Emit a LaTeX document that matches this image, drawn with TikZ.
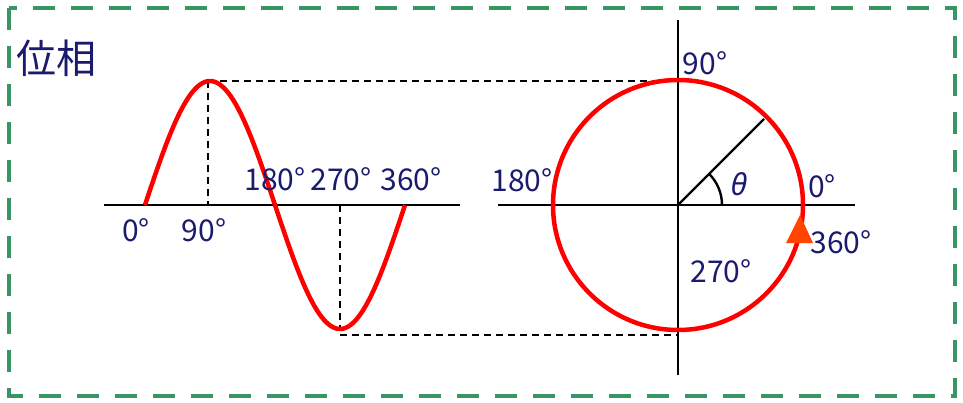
\documentclass[tikz,border=0pt]{standalone}
\usepackage{fontspec}
\setmainfont{Noto Sans CJK JP}
\newfontfamily\thetafont{Noto Sans}
\usetikzlibrary{calc}
\definecolor{frameg}{RGB}{56,150,100}
\definecolor{navytxt}{RGB}{26,26,110}
\definecolor{arrowred}{RGB}{255,69,0}
\tikzset{
  lbl/.style={text=navytxt,inner sep=0pt,font=\fontsize{30}{30}\selectfont},
  axis/.style={draw=black,line width=2.4pt},
  guide/.style={draw=black,line width=2pt,dash pattern=on 7pt off 5pt},
  wave/.style={draw=red,line width=4.5pt},
}
\begin{document}
\begin{tikzpicture}[x=1pt,y=-1pt]
\useasboundingbox (0,0) rectangle (963,402);
% frame
\draw[frameg,line width=4pt,dash pattern=on 22pt off 16pt] (9,8) rectangle (955,396);
\node[text=navytxt,inner sep=0pt,font=\fontsize{40}{40}\selectfont,anchor=west] (title) at (16,58) {位相};
% left part coordinates
\coordinate (la) at (104,205);
\coordinate (lb) at (460,205);
\coordinate (peak) at (208,81);
\coordinate (peakax) at (208,205);
\coordinate (trough) at (340,330);
\coordinate (troughax) at (340,205);
% right part coordinates
\coordinate (O) at (678,205);
\coordinate (ra) at (498,205);
\coordinate (rb) at (855,205);
\coordinate (rt) at (678,20);
\coordinate (rbot) at (678,375);
\coordinate (ctop) at (678,81);
\coordinate (cbot) at (678,335);
\coordinate (rad) at ($(O)+(86,-86)$);
% guides
\draw[guide] (peak) -- (peakax);
\draw[guide] (troughax) -- (trough);
\draw[guide] (peak) -- (ctop);
\draw[guide] (trough |- cbot) -- (cbot);
% axes
\draw[axis] (la) -- (lb);
\draw[axis] (ra) -- (rb);
\draw[axis] (rt) -- (rbot);
% sine
\draw[wave,domain=0:360,samples=120,smooth,variable=\t] plot ({145+\t*0.72222},{205-124*sin(\t)});
% circle
\draw[wave] (O) circle (125);
% radius and angle
\draw[black,line width=2.4pt] (O) -- (rad);
\draw[black,line width=2.4pt] ($(O)+(44,0)$) arc[start angle=0,end angle=-45,radius=44];
% arrow triangle
\fill[arrowred] (800,215) -- (813,243) -- (786,243) -- cycle;
% labels
\node[lbl] (l0) at (136,230) {0°};
\node[lbl] (l90) at (204,230) {90°};
\node[lbl] (l180) at (275,179) {180°};
\node[lbl] (l270) at (341,179) {270°};
\node[lbl] (l360) at (411,179) {360°};
\node[lbl] (r90) at (705,63) {90°};
\node[lbl] (r180) at (522,180) {180°};
\node[lbl,font=\fontsize{30}{30}\thetafont\itshape] (theta) at (739,184) {θ};
\node[lbl] (r0) at (822,186) {0°};
\node[lbl] (r360) at (841,242) {360°};
\node[lbl] (r270) at (721,271) {270°};
\end{tikzpicture}
\end{document}
